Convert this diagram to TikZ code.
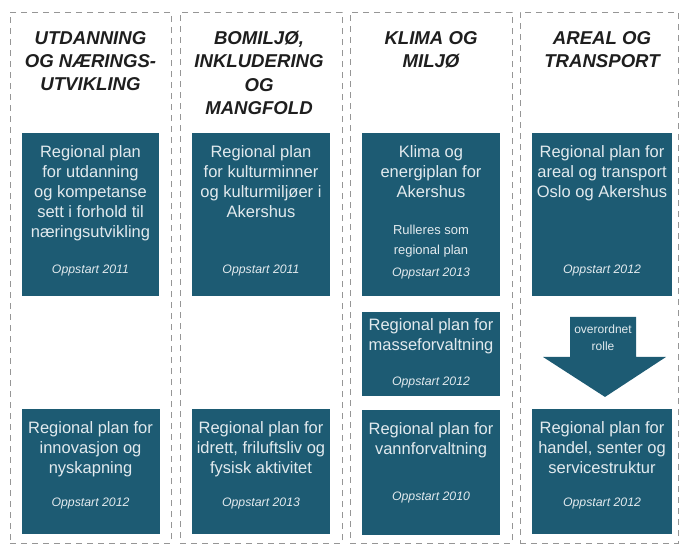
\documentclass[tikz,border=0pt]{standalone}
\usepackage{fontspec}
\setmainfont{Liberation Sans}
\usepackage{xcolor}
\usetikzlibrary{positioning,calc}
\definecolor{planblue}{RGB}{29,91,115}
\definecolor{plantxt}{RGB}{226,234,238}
\definecolor{headgray}{RGB}{30,30,30}
\definecolor{framegray}{RGB}{150,150,150}

\begin{document}
\begin{tikzpicture}[x=1pt,y=-1pt,
        colframe/.style={draw=framegray,line width=0.9pt,dash pattern=on 6pt off 5pt,minimum width=161pt,minimum height=531pt,inner sep=0},
        heading/.style={font=\fontsize{18.6}{23.3}\selectfont\bfseries\itshape,text=headgray,align=center,inner sep=0},
        plan/.style={fill=planblue,minimum width=138pt,inner sep=0},
        plantext/.style={font=\fontsize{16.5}{20}\selectfont,text=plantxt,align=center,inner sep=0},
        oppstart/.style={font=\fontsize{12.3}{14}\selectfont\itshape,text=plantxt,inner sep=0},
        plannote/.style={font=\fontsize{13}{20}\selectfont,text=plantxt,align=center,inner sep=0}]
        \useasboundingbox (0,0) rectangle (679,549);
        % the four columns
        \node[colframe] (col1) at (90.5,277.5) {};
        \node[colframe,minimum width=162pt] (col2) at (261,277.5) {};
        \node[colframe,minimum width=162pt] (col3) at (431,277.5) {};
        \node[colframe,minimum width=158pt] (col4) at (599,277.5) {};
        \node[heading,below=19.5pt of col1.north] (h1) {UTDANNING\\OG NÆRINGS-\\UTVIKLING};
        \node[heading,below=19.5pt of col2.north,xshift=-2pt] (h2) {BOMILJØ,\\INKLUDERING\\OG\\MANGFOLD};
        \node[heading,below=19.5pt of col3.north] (h3) {KLIMA OG\\MILJØ};
        \node[heading,below=19.5pt of col4.north,xshift=3pt] (h4) {AREAL OG\\TRANSPORT};
        % plans, first row
        \node[plan,minimum width=137pt,minimum height=163pt,below=121pt of col1.north] (utd) {};
        \node[plan,minimum height=163pt,below=121pt of col2.north] (kult) {};
        \node[plan,minimum height=163pt,below=121pt of col3.north] (klima) {};
        \node[plan,minimum width=140pt,minimum height=163pt,below=121pt of col4.north,xshift=3pt] (areal) {};
        \node[plantext,below=12.5pt of utd.north] (utd-t) {Regional plan\\for utdanning\\og kompetanse\\sett i forhold til\\næringsutvikling};
        \node[oppstart,above=19.5pt of utd.south] (utd-s) {Oppstart 2011};
        \node[plantext,below=12.5pt of kult.north] (kult-t) {Regional plan\\for kulturminner\\og kulturmiljøer i\\Akershus};
        \node[oppstart,above=19.5pt of kult.south] (kult-s) {Oppstart 2011};
        \node[plantext,below=12.5pt of klima.north] (klima-t) {Klima og\\energiplan for\\Akershus};
        \node[plannote,above=38.8pt of klima.south] (klima-n) {Rulleres som\\regional plan};
        \node[oppstart,above=16.5pt of klima.south] (klima-s) {Oppstart 2013};
        \node[plantext,below=12.5pt of areal.north] (areal-t) {Regional plan for\\areal og transport\\Oslo og Akershus};
        \node[oppstart,above=19.5pt of areal.south] (areal-s) {Oppstart 2012};
        % second row
        \node[plan,minimum height=84pt,below=16pt of klima] (masse) {};
        \node[plantext,below=6.5pt of masse.north] (masse-t) {Regional plan for\\masseforvaltning};
        \node[oppstart,above=8.5pt of masse.south] (masse-s) {Oppstart 2012};
        \coordinate[below=21pt of areal.south,xshift=1pt] (arr);
        \fill[planblue] (arr) ++(-33,0) -- ++(66,0) -- ++(0,40) -- ++(30,0) -- ++(-61,40) -- ++(-62,-40) -- ++(27,0) -- cycle;
        \node[plannote,font=\fontsize{12}{17}\selectfont,below=7.5pt of arr] (arr-t) {overordnet\\rolle};
        % third row
        \node[plan,minimum height=125pt,below=113pt of utd] (innov) {};
        \node[plan,minimum height=125pt,below=113pt of kult] (idrett) {};
        \node[plan,minimum height=125pt,below=13pt of masse] (vann) {};
        \node[plan,minimum width=140pt,minimum height=125pt,below=113pt of areal] (handel) {};
        \node[plantext,below=12.5pt of innov.north] (innov-t) {Regional plan for\\innovasjon og\\nyskapning};
        \node[oppstart,above=25.5pt of innov.south] (innov-s) {Oppstart 2012};
        \node[plantext,below=12.5pt of idrett.north] (idrett-t) {Regional plan for\\idrett, friluftsliv og\\fysisk aktivitet};
        \node[oppstart,above=25.5pt of idrett.south] (idrett-s) {Oppstart 2013};
        \node[plantext,below=12.5pt of vann.north] (vann-t) {Regional plan for\\vannforvaltning};
        \node[oppstart,above=31.5pt of vann.south] (vann-s) {Oppstart 2010};
        \node[plantext,below=12.5pt of handel.north] (handel-t) {Regional plan for\\handel, senter og\\servicestruktur};
        \node[oppstart,above=25.5pt of handel.south] (handel-s) {Oppstart 2012};
\end{tikzpicture}
\end{document}
